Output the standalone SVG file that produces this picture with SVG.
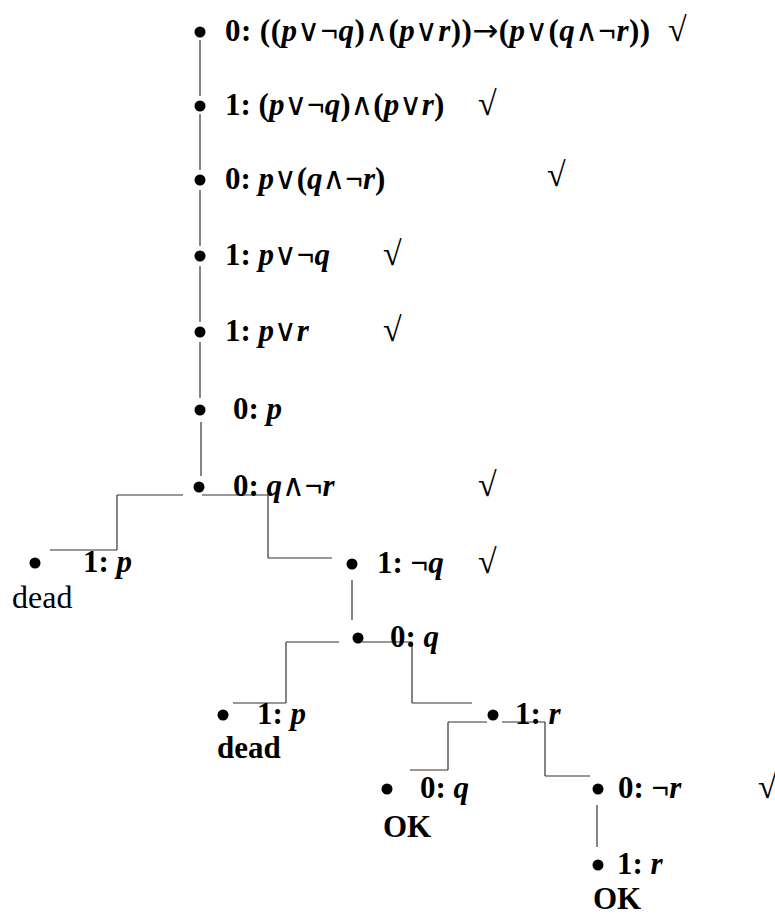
<svg xmlns="http://www.w3.org/2000/svg" width="775" height="915" viewBox="0 0 775 915">
<style>
.t{font-family:"Liberation Serif","DejaVu Serif",serif;font-size:31px;font-weight:bold;fill:#000}
.i{font-style:italic}
.s{font-weight:normal}
.a{font-family:"DejaVu Sans",sans-serif;font-weight:normal}
.r{font-family:"Liberation Serif","DejaVu Serif",serif;font-size:32px;font-weight:normal;fill:#000}
.ck{font-family:"Liberation Serif","DejaVu Serif",serif;font-size:34px;font-weight:bold;fill:#000}
.b{fill:#000}
.c line{stroke:#333;stroke-width:1.2}
</style>
<g id="connectors" class="c">
<line x1="200" y1="40" x2="200" y2="96"/>
<line x1="200" y1="114" x2="200" y2="170"/>
<line x1="200" y1="190" x2="200" y2="246"/>
<line x1="200" y1="266" x2="200" y2="322"/>
<line x1="200" y1="342" x2="200" y2="398"/>
<line x1="201" y1="422" x2="201" y2="476"/>
<line x1="117" y1="495" x2="183" y2="495"/>
<line x1="202" y1="495" x2="268" y2="495"/>
<line x1="117" y1="495" x2="117" y2="550"/>
<line x1="50" y1="550" x2="117" y2="550"/>
<line x1="268" y1="495" x2="268" y2="558"/>
<line x1="268" y1="558" x2="332" y2="558"/>
<line x1="352" y1="580" x2="352" y2="620"/>
<line x1="286" y1="642" x2="339" y2="642"/>
<line x1="362" y1="642" x2="412" y2="642"/>
<line x1="286" y1="642" x2="286" y2="703"/>
<line x1="233" y1="703" x2="286" y2="703"/>
<line x1="412" y1="642" x2="412" y2="703"/>
<line x1="412" y1="703" x2="472" y2="703"/>
<line x1="448" y1="722" x2="487" y2="722"/>
<line x1="502" y1="722" x2="545" y2="722"/>
<line x1="448" y1="722" x2="448" y2="770"/>
<line x1="410" y1="770" x2="448" y2="770"/>
<line x1="545" y1="722" x2="545" y2="776"/>
<line x1="545" y1="776" x2="590" y2="776"/>
<line x1="597" y1="805" x2="597" y2="847"/>
</g>
<g id="n0"><circle class="b" cx="200" cy="32" r="5.5"/><text class="t" x="225" y="41" textLength="425" lengthAdjust="spacing">0: ((<tspan class="i">p</tspan><tspan class="s">∨</tspan>¬<tspan class="i">q</tspan>)<tspan class="s">∧</tspan>(<tspan class="i">p</tspan><tspan class="s">∨</tspan><tspan class="i">r</tspan>))<tspan class="a">→</tspan>(<tspan class="i">p</tspan><tspan class="s">∨</tspan>(<tspan class="i">q</tspan><tspan class="s">∧</tspan>¬<tspan class="i">r</tspan>))</text><text class="ck" x="668" y="41">√</text></g>
<g id="n1"><circle class="b" cx="200" cy="106" r="5.5"/><text class="t" x="225" y="115">1: (<tspan class="i">p</tspan><tspan class="s">∨</tspan>¬<tspan class="i">q</tspan>)<tspan class="s">∧</tspan>(<tspan class="i">p</tspan><tspan class="s">∨</tspan><tspan class="i">r</tspan>)</text><text class="ck" x="478" y="115">√</text></g>
<g id="n2"><circle class="b" cx="200" cy="180" r="5.5"/><text class="t" x="225" y="189">0: <tspan class="i">p</tspan><tspan class="s">∨</tspan>(<tspan class="i">q</tspan><tspan class="s">∧</tspan>¬<tspan class="i">r</tspan>)</text><text class="ck" x="547" y="186">√</text></g>
<g id="n3"><circle class="b" cx="200" cy="256" r="5.5"/><text class="t" x="225" y="265">1: <tspan class="i">p</tspan><tspan class="s">∨</tspan>¬<tspan class="i">q</tspan></text><text class="ck" x="383" y="265">√</text></g>
<g id="n4"><circle class="b" cx="200" cy="332" r="5.5"/><text class="t" x="225" y="341">1: <tspan class="i">p</tspan><tspan class="s">∨</tspan><tspan class="i">r</tspan></text><text class="ck" x="383" y="341">√</text></g>
<g id="n5"><circle class="b" cx="200" cy="410" r="5.5"/><text class="t" x="233" y="419">0: <tspan class="i">p</tspan></text></g>
<g id="n6"><circle class="b" cx="199" cy="487" r="5.5"/><text class="t" x="233" y="496">0: <tspan class="i">q</tspan><tspan class="s">∧</tspan>¬<tspan class="i">r</tspan></text><text class="ck" x="478" y="496">√</text></g>
<g id="n7"><circle class="b" cx="35" cy="563" r="5.5"/><text class="t" x="83" y="572">1: <tspan class="i">p</tspan></text><text class="r" x="12" y="608">dead</text></g>
<g id="n8"><circle class="b" cx="352" cy="564" r="5.5"/><text class="t" x="377" y="573">1: ¬<tspan class="i">q</tspan></text><text class="ck" x="478" y="573">√</text></g>
<g id="n9"><circle class="b" cx="358" cy="638" r="5.5"/><text class="t" x="390" y="647">0: <tspan class="i">q</tspan></text></g>
<g id="n10"><circle class="b" cx="223" cy="715" r="5.5"/><text class="t" x="257" y="724">1: <tspan class="i">p</tspan></text><text class="t" x="217" y="758">dead</text></g>
<g id="n11"><circle class="b" cx="493" cy="715" r="5.5"/><text class="t" x="515" y="724">1: <tspan class="i">r</tspan></text></g>
<g id="n12"><circle class="b" cx="387" cy="789" r="5.5"/><text class="t" x="420" y="798">0: <tspan class="i">q</tspan></text><text class="t" x="383" y="837">OK</text></g>
<g id="n13"><circle class="b" cx="598" cy="789" r="5.5"/><text class="t" x="618" y="798">0: ¬<tspan class="i">r</tspan></text><text class="ck" x="758" y="798">√</text></g>
<g id="n14"><circle class="b" cx="598" cy="865" r="5.5"/><text class="t" x="617" y="874">1: <tspan class="i">r</tspan></text><text class="t" x="593" y="909">OK</text></g>
</svg>
